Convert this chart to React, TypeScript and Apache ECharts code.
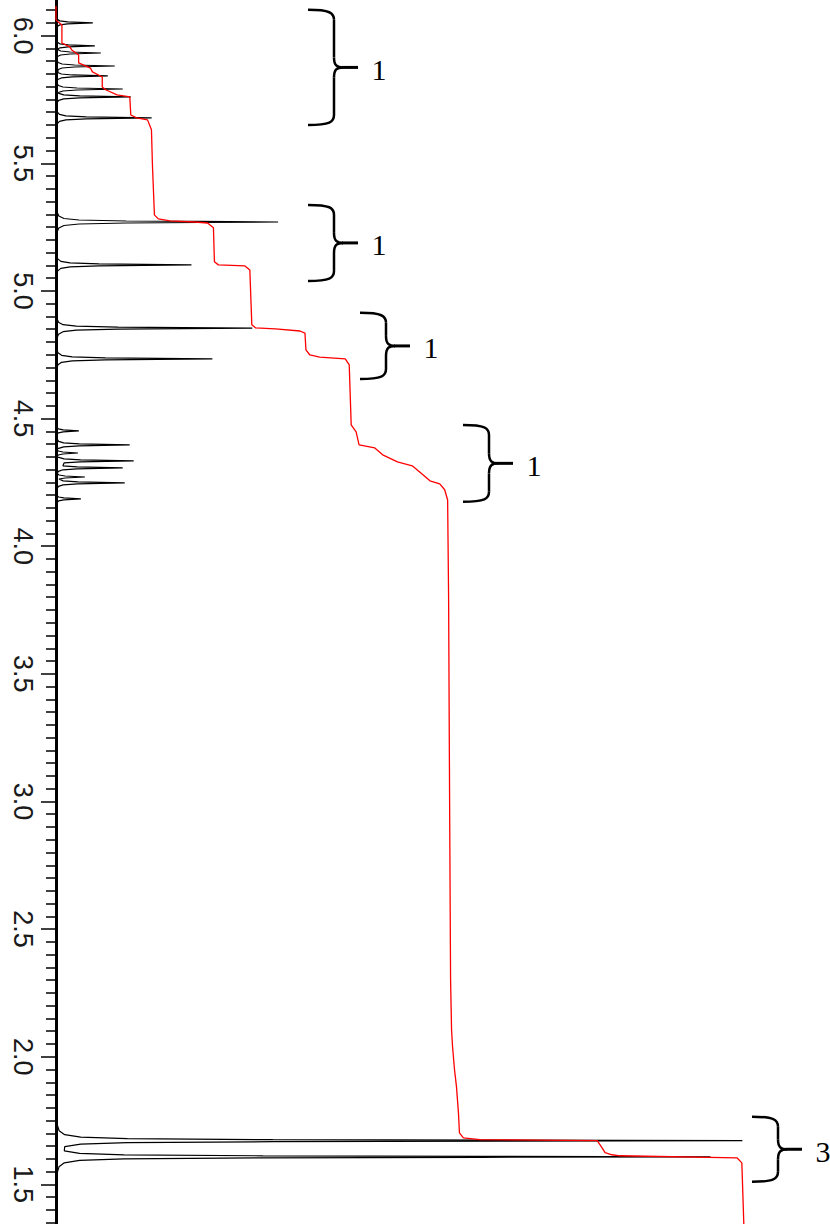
import React, { useEffect, useRef } from "react";
import * as echarts from "echarts";

// chemical-shift axis (ppm)
const PPM_MIN = 1.0;
const PPM_MAX = 6.5;
const PPM_INTERVAL = 0.5;

// 1H NMR peaks: position (ppm) and height (intensity units)
const PEAK_PPM = [
  6.05, 5.96, 5.932, 5.881, 5.842, 5.791, 5.76, 5.678,
  5.27, 5.102, 4.854, 4.734,
  4.452, 4.397, 4.365, 4.334, 4.307, 4.271, 4.248, 4.185,
  1.671, 1.608,
];
const PEAK_HEIGHT = [
  37, 39, 45, 59, 52, 67, 75, 96,
  223, 136, 197, 157,
  23, 74, 22, 78, 67, 29, 69, 25,
  689, 657,
];

// line-shape table of a single resonance: ppm offset from its centre, fraction of its height
const SHAPE_OFFSET = [-0.0627, -0.0392, -0.0235, -0.0137, -0.0078, -0.0039, -0.002, 0, 0.002, 0.0039, 0.0078, 0.0137, 0.0235, 0.0392, 0.0627];
const SHAPE_FRACTION = [0.0018, 0.0046, 0.0127, 0.036, 0.104, 0.316, 0.649, 1, 0.649, 0.316, 0.104, 0.036, 0.0127, 0.0046, 0.0018];

// integral trace (red): ppm and integrated value (protons)
const INTEGRAL_PPM = [
  6.116, 6.061, 6.042, 5.971, 5.956, 5.944, 5.924, 5.893, 5.873, 5.858, 5.838, 5.799, 5.787, 5.768, 5.76, 5.689,
  5.678, 5.67, 5.631, 5.494, 5.298, 5.282, 5.274, 5.27, 5.266, 5.247, 5.114, 5.102, 5.098, 5.082, 4.867, 4.855,
  4.851, 4.843, 4.835, 4.769, 4.749, 4.741, 4.734, 4.71, 4.475, 4.448, 4.397, 4.385, 4.358, 4.33, 4.315, 4.283,
  4.256, 4.244, 4.221, 4.181, 3.79, 3.006, 2.301, 2.105, 2.039, 1.949, 1.882, 1.78, 1.702, 1.682, 1.675, 1.671,
  1.643, 1.624, 1.616, 1.612, 1.604, 1.584, 1.345, 1.0,
];
const INTEGRAL_VALUE = [
  0, 0, 0.06, 0.06, 0.14, 0.16, 0.23, 0.23, 0.35, 0.37, 0.47, 0.47, 0.51, 0.62, 0.75, 0.76,
  0.82, 0.93, 0.97, 0.98, 1.0, 1.04, 1.16, 1.41, 1.54, 1.6, 1.61, 1.65, 1.92, 1.97, 1.99, 2.03,
  2.23, 2.48, 2.53, 2.54, 2.58, 2.68, 2.94, 2.98, 3.0, 3.05, 3.08, 3.24, 3.32, 3.47, 3.62, 3.72,
  3.8, 3.9, 3.95, 3.98, 3.99, 4.0, 4.01, 4.02, 4.03, 4.05, 4.07, 4.09, 4.1, 4.14, 4.31, 5.5,
  5.55, 5.58, 5.65, 5.73, 6.92, 6.97, 6.99, 7.0,
];

// integration brackets: ppm range and relative proton count
const BRACE_TOP_PPM = [6.101, 5.337, 4.914, 4.475, 1.765];
const BRACE_BOTTOM_PPM = [5.65, 5.039, 4.655, 4.174, 1.51];
const BRACE_LABEL = ["1", "1", "1", "1", "3"];
const BRACE_LEFT_X = [308, 308, 360, 463, 752];

function buildSpectrum(): number[][] {
  const pts: number[][] = [[0, PPM_MAX]];
  for (let i = 0; i < PEAK_PPM.length; i++) {
    const p = PEAK_PPM[i];
    const h = PEAK_HEIGHT[i];
    const prevGap = i > 0 ? PEAK_PPM[i - 1] - p : Infinity;
    const nextGap = i < PEAK_PPM.length - 1 ? p - PEAK_PPM[i + 1] : Infinity;
    for (let k = 0; k < SHAPE_OFFSET.length; k++) {
      const off = SHAPE_OFFSET[k];
      if (off < 0 && -off >= prevGap / 2) continue;
      if (off > 0 && off >= nextGap / 2) continue;
      pts.push([h * SHAPE_FRACTION[k], p - off]);
    }
  }
  pts.push([0, PPM_MIN]);
  return pts;
}

function braceElements(chart: echarts.ECharts): any[] {
  const els: any[] = [];
  const stroke = { stroke: "#000", lineWidth: 2.5, fill: "none" };
  for (let i = 0; i < BRACE_LABEL.length; i++) {
    const yT = chart.convertToPixel({ yAxisIndex: 0 }, BRACE_TOP_PPM[i]) as number;
    const yB = chart.convertToPixel({ yAxisIndex: 0 }, BRACE_BOTTOM_PPM[i]) as number;
    const yM = (yT + yB) / 2;
    const xL = BRACE_LEFT_X[i];
    const xS = xL + 26;
    const xT = xL + 50;
    const r = 10;
    els.push(
      { type: "bezierCurve", shape: { x1: xL, y1: yT, cpx1: xS - 4, cpy1: yT, cpx2: xS, cpy2: yT + 3, x2: xS, y2: yT + r }, style: stroke, silent: true },
      { type: "line", shape: { x1: xS, y1: yT + r, x2: xS, y2: yM - r }, style: stroke, silent: true },
      { type: "bezierCurve", shape: { x1: xS, y1: yM - r, cpx1: xS, cpy1: yM - 2, cpx2: xS + 3, cpy2: yM, x2: xS + 9, y2: yM }, style: stroke, silent: true },
      { type: "line", shape: { x1: xS + 8, y1: yM, x2: xT, y2: yM }, style: { stroke: "#000", lineWidth: 3 }, silent: true },
      { type: "bezierCurve", shape: { x1: xS, y1: yM + r, cpx1: xS, cpy1: yM + 2, cpx2: xS + 3, cpy2: yM, x2: xS + 9, y2: yM }, style: stroke, silent: true },
      { type: "line", shape: { x1: xS, y1: yM + r, x2: xS, y2: yB - r }, style: stroke, silent: true },
      { type: "bezierCurve", shape: { x1: xL, y1: yB, cpx1: xS - 4, cpy1: yB, cpx2: xS, cpy2: yB - 3, x2: xS, y2: yB - r }, style: stroke, silent: true },
      {
        type: "text",
        x: xT + 21,
        y: yM + 2,
        silent: true,
        style: {
          text: BRACE_LABEL[i],
          fontSize: 30,
          fontFamily: "'Liberation Serif', 'Times New Roman', serif",
          fill: "#000",
          align: "center",
          verticalAlign: "middle",
          textAlign: "center",
          textVerticalAlign: "middle",
        },
      }
    );
  }
  return els;
}

export default function App() {
  const ref = useRef<HTMLDivElement>(null);
  useEffect(() => {
    if (!ref.current) return;
    const chart = echarts.init(ref.current, undefined, { renderer: "svg" });
    const spectrum = buildSpectrum();
    const integral = INTEGRAL_PPM.map((p, i) => [INTEGRAL_VALUE[i], p]);
    chart.setOption({
      animation: false,
      backgroundColor: "#fff",
      grid: { left: 53, right: 0, top: -92, bottom: -88, outerBoundsMode: "none", containLabel: false },
      xAxis: [
        { type: "value", min: -3, max: 777, show: false },
        { type: "value", min: -3 / 98.4, max: 774 / 98.4, show: false },
      ],
      yAxis: {
        type: "value",
        min: PPM_MIN,
        max: PPM_MAX,
        interval: PPM_INTERVAL,
        position: "left",
        axisLine: { show: true, lineStyle: { color: "#000", width: 3 } },
        axisTick: { show: true, inside: false, length: 15, lineStyle: { color: "#000", width: 1.5 } },
        minorTick: { show: true, splitNumber: 10, length: 10, lineStyle: { color: "#000", width: 1.5 } },
        splitLine: { show: false },
        minorSplitLine: { show: false },
        axisLabel: {
          rotate: -90,
          margin: 17,
          fontSize: 27,
          color: "#1a1a1a",
          showMinLabel: false,
          showMaxLabel: false,
          fontFamily: "'Liberation Sans', Arial, sans-serif",
          formatter: (v: number) => v.toFixed(1),
        },
      },
      series: [
        {
          type: "line",
          xAxisIndex: 0,
          yAxisIndex: 0,
          data: spectrum,
          symbol: "none",
          showSymbol: false,
          lineStyle: { color: "#000", width: 1.2 },
          silent: true,
          z: 2,
        },
        {
          type: "line",
          xAxisIndex: 1,
          yAxisIndex: 0,
          data: integral,
          symbol: "none",
          showSymbol: false,
          lineStyle: { color: "#ff0000", width: 1.3 },
          silent: true,
          z: 3,
        },
      ],
    });
    chart.setOption({ graphic: braceElements(chart) });
    return () => chart.dispose();
  }, []);
  return (
    <div
      ref={ref}
      style={{ position: "fixed", left: 0, top: 0, width: 830, height: 1224, background: "#fff" }}
    />
  );
}
